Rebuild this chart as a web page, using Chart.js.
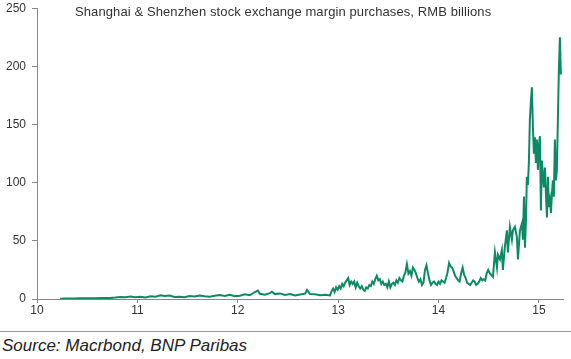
<!DOCTYPE html>
<html>
<head>
<meta charset="utf-8">
<script src="https://cdn.jsdelivr.net/npm/chart.js@4/dist/chart.umd.min.js"></script>
<style>
  body { margin: 0; background: #fff; }
  #wrap { position: relative; width: 571px; height: 359px; overflow: hidden; font-family: Arial, "Liberation Sans", sans-serif; }
  #chart { position: absolute; left: 0; top: -5px; }
  #title { position: absolute; left: 75px; top: 4px; font-size: 13px; letter-spacing: 0.1px; color: #333; white-space: nowrap; }
  #rule { position: absolute; left: 0; top: 331px; width: 571px; height: 1px; background: #55b89f; }
  #source { position: absolute; left: 2px; top: 336px; font-size: 17px; font-style: italic; color: #222; white-space: nowrap; }
</style>
</head>
<body>
<div id="wrap">
  <canvas id="chart" width="571" height="330"></canvas>
  <div id="title">Shanghai &amp; Shenzhen stock exchange margin purchases, RMB billions</div>
  <div id="rule"></div>
  <div id="source">Source: Macrbond, BNP Paribas</div>
</div>
<script>
// decimal years (10 = 2010)
const years = [
  10.23, 10.28, 10.33, 10.38, 10.43, 10.48, 10.53, 10.58, 10.63, 10.68,
  10.73, 10.78, 10.83, 10.88, 10.93, 10.98, 11.03, 11.08, 11.13, 11.18,
  11.23, 11.27, 11.32, 11.37, 11.42, 11.47, 11.52, 11.57, 11.62, 11.67,
  11.72, 11.77, 11.82, 11.87, 11.92, 11.97, 12.02, 12.07, 12.12, 12.17,
  12.20, 12.22, 12.27, 12.32, 12.34, 12.37, 12.42, 12.47, 12.52, 12.57,
  12.62, 12.67, 12.69, 12.72, 12.77, 12.82, 12.87, 12.92,
  12.935, 12.95, 12.965, 12.98, 12.995, 13.01, 13.025, 13.04, 13.055, 13.07,
  13.085, 13.10, 13.115, 13.13, 13.145, 13.16, 13.175, 13.19, 13.205, 13.22,
  13.235, 13.25, 13.265, 13.28, 13.295, 13.31, 13.325, 13.34, 13.355, 13.37,
  13.385, 13.40, 13.415, 13.43, 13.445, 13.46, 13.475, 13.49, 13.505, 13.52,
  13.535, 13.55, 13.565, 13.58, 13.595, 13.61, 13.625, 13.64, 13.655, 13.67,
  13.685, 13.70, 13.715, 13.73, 13.745, 13.76, 13.775, 13.79, 13.805, 13.82,
  13.835, 13.85, 13.865, 13.88, 13.895, 13.91, 13.925, 13.94, 13.955, 13.97,
  13.985, 14.00, 14.015, 14.03, 14.045, 14.06, 14.075, 14.09, 14.105, 14.12,
  14.135, 14.15, 14.165, 14.18, 14.195, 14.21, 14.225, 14.24, 14.255, 14.27,
  14.285, 14.30, 14.315, 14.33, 14.345, 14.36, 14.375, 14.39, 14.405, 14.42,
  14.435, 14.45, 14.465, 14.48, 14.495,
  14.512, 14.542, 14.562, 14.582, 14.592, 14.612, 14.631, 14.641, 14.661, 14.681,
  14.691, 14.711, 14.731, 14.741, 14.761, 14.781, 14.791, 14.811, 14.831, 14.841,
  14.851, 14.861, 14.871, 14.880, 14.890, 14.900, 14.910, 14.920, 14.930, 14.940,
  14.950, 14.960, 14.970, 14.980, 14.990, 15.000, 15.010, 15.020, 15.030, 15.040,
  15.050, 15.060, 15.070, 15.080, 15.090, 15.100, 15.110, 15.120, 15.130, 15.139,
  15.149, 15.159, 15.169, 15.179, 15.189, 15.199, 15.209, 15.219
];

// margin purchases, RMB bn
const purchases = [
  0.3, 0.4, 0.5, 0.5, 0.6, 0.6, 0.7, 0.6, 0.8, 0.9,
  0.8, 1.2, 1.8, 1.5, 2.2, 1.6, 1.9, 1.4, 2.4, 2.0,
  3.2, 2.5, 3.0, 1.8, 2.0, 1.6, 2.6, 2.2, 3.0, 2.4,
  2.0, 2.8, 3.4, 2.5, 3.6, 2.4, 2.8, 4.0, 3.2, 6.0,
  7.2, 4.5, 3.6, 5.0, 6.2, 4.2, 4.8, 3.4, 4.2, 3.0,
  3.8, 4.6, 7.8, 4.2, 4.0, 3.2, 3.6, 3.0,
  7, 9, 6, 10, 8, 11, 9, 13, 11, 14,
  16, 18, 12, 15, 13, 15, 10, 14, 11, 9,
  11, 8, 7, 10, 9, 12, 11, 15, 13, 17,
  20, 16, 17, 13, 15, 12, 13, 10, 15, 10,
  13, 14, 12, 16, 14, 18, 16, 15, 20, 23,
  30, 22, 24, 20, 27, 25, 22, 18, 15, 17,
  12, 14, 25, 29, 22, 16, 12, 14, 15, 13,
  12, 15, 13, 16, 15, 14, 18, 23, 31, 28,
  27, 24, 20, 18, 16, 15, 22, 27, 21, 18,
  14, 13, 12, 14, 16, 15, 12, 13, 15, 18,
  16, 17, 16, 22, 25,
  22, 19, 40, 27, 38, 34, 42, 25, 45, 59,
  40, 62, 51, 59, 62, 53, 34, 59, 65, 51,
  88, 44, 68, 105, 98, 117, 154, 170, 182, 148,
  125, 139, 117, 137, 111, 132, 140, 76, 119, 105,
  96, 113, 90, 70, 105, 79, 85, 74, 91, 102,
  88, 137, 102, 111, 154, 197, 225, 193
];

const xTicks = [10, 11, 12, 13, 14, 15];
const yTicks = [0, 50, 100, 150, 200, 250];

const points = years.map((y, i) => ({ x: y, y: purchases[i] }));

const ctx = document.getElementById("chart").getContext("2d");
new Chart(ctx, {
  type: "line",
  data: {
    datasets: [
      {
        data: points,
        borderColor: "#0b8a63",
        borderWidth: 2,
        pointRadius: 0,
        tension: 0,
        fill: false,
      },
    ],
  },
  options: {
    responsive: false,
    animation: false,
    layout: { padding: { top: 3, right: 8, left: 0, bottom: 0 } },
    plugins: { legend: { display: false }, tooltip: { enabled: false } },
    scales: {
      x: {
        type: "linear",
        min: 10,
        max: 15.24,
        afterBuildTicks: (s) => {
          s.ticks = xTicks.map((v) => ({ value: v }));
        },
        afterFit: (s) => {
          s.height = 26;
        },
        ticks: {
          color: "#333",
          font: { family: "Arial, 'Liberation Sans'", size: 12 },
          padding: 0,
          maxRotation: 0,
          callback: (v) => String(v),
        },
        grid: { drawOnChartArea: false, tickLength: 4, color: "#888" },
        border: { color: "#888" },
      },
      y: {
        min: 0,
        max: 250,
        afterBuildTicks: (s) => {
          s.ticks = yTicks.map((v) => ({ value: v }));
        },
        afterFit: (s) => {
          s.width = 37;
        },
        ticks: {
          color: "#333",
          font: { family: "Arial, 'Liberation Sans'", size: 12 },
          padding: 6,
        },
        grid: { drawOnChartArea: false, tickLength: 5, color: "#888" },
        border: { color: "#888" },
      },
    },
  },
});
</script>
</body>
</html>
